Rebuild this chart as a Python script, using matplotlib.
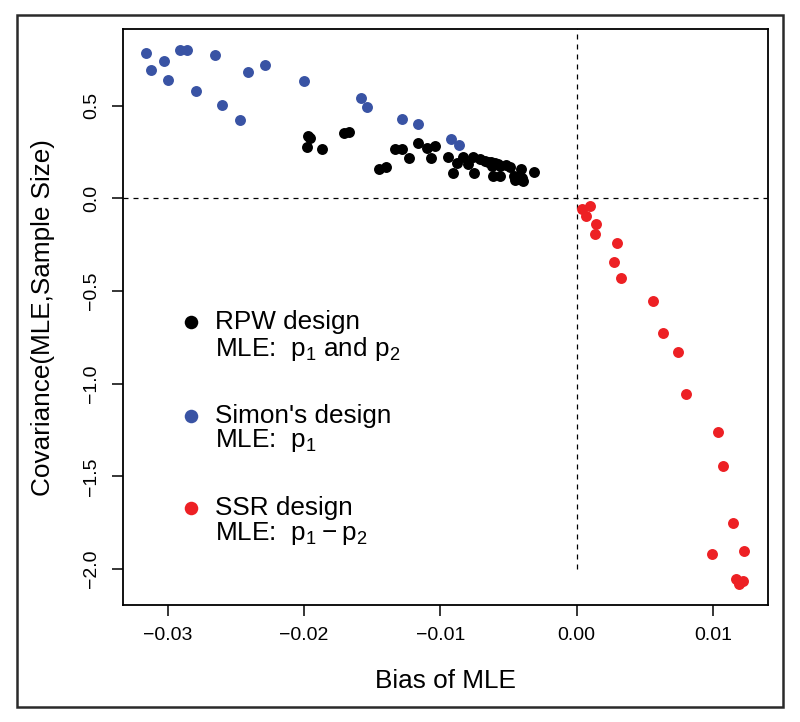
#!/usr/bin/env python3
"""Bias vs covariance(MLE, sample size) scatter for three designs."""

import matplotlib
matplotlib.use("Agg")
import matplotlib.pyplot as plt
from matplotlib.patches import Rectangle

plt.rcParams["font.family"] = ["Liberation Sans", "DejaVu Sans"]

# Simon's design (blue)
simon_bias = [-0.0316, -0.0312, -0.0303, -0.0300, -0.0291, -0.0286, -0.0279, -0.0265,
              -0.0260, -0.0247, -0.0241, -0.0229, -0.0200, -0.0158, -0.0154, -0.0128,
              -0.0116, -0.0092, -0.0086]
simon_cov = [0.783, 0.693, 0.743, 0.639, 0.802, 0.798, 0.581, 0.773,
             0.504, 0.425, 0.681, 0.718, 0.634, 0.542, 0.494, 0.427,
             0.402, 0.320, 0.288]

# RPW design (black)
rpw_bias = [-0.0197, -0.0196, -0.0198, -0.0187, -0.0171, -0.0167, -0.0145, -0.0140,
            -0.0133, -0.0128, -0.0123, -0.0116, -0.0110, -0.0104, -0.0107, -0.0094,
            -0.0091, -0.0088, -0.0083, -0.0080, -0.0076, -0.0075, -0.0071, -0.0067,
            -0.0063, -0.0062, -0.0060, -0.0061, -0.0056, -0.0056, -0.0052, -0.0049,
            -0.0046, -0.0044, -0.0041, -0.0040, -0.0039, -0.0031, -0.0045, -0.0040,
            -0.0058, -0.0065]
rpw_cov = [0.337, 0.325, 0.275, 0.268, 0.355, 0.357, 0.160, 0.170,
           0.268, 0.268, 0.218, 0.297, 0.273, 0.280, 0.220, 0.224,
           0.138, 0.192, 0.224, 0.187, 0.221, 0.138, 0.212, 0.200,
           0.194, 0.176, 0.190, 0.120, 0.120, 0.176, 0.181, 0.167,
           0.122, 0.103, 0.158, 0.110, 0.096, 0.140, 0.097, 0.098,
           0.185, 0.195]

# SSR design (red)
ssr_bias = [0.00037, 0.00067, 0.00101, 0.00142, 0.00139, 0.00296, 0.00274, 0.00330,
            0.00559, 0.00634, 0.00742, 0.00802, 0.01035, 0.01072, 0.01151, 0.00997,
            0.01230, 0.01170, 0.01189, 0.01222]
ssr_cov = [-0.060, -0.094, -0.040, -0.139, -0.194, -0.243, -0.343, -0.430,
           -0.552, -0.725, -0.827, -1.058, -1.260, -1.446, -1.752, -1.918,
           -1.901, -2.055, -2.080, -2.065]

x_ticks = [-0.03, -0.02, -0.01, 0.00, 0.01]
y_ticks = [0.5, 0.0, -0.5, -1.0, -1.5, -2.0]

BLUE = "#3953a4"
RED = "#ed2024"


def main() -> None:
    fig = plt.figure(figsize=(8.0, 7.22), dpi=100)
    ax = fig.add_axes([0.1534, 0.162, 0.8062, 0.7974])

    ax.scatter(simon_bias, simon_cov, s=62, color=BLUE, linewidths=0, zorder=3)
    ax.scatter(rpw_bias, rpw_cov, s=62, color="black", linewidths=0, zorder=3)
    ax.scatter(ssr_bias, ssr_cov, s=62, color=RED, linewidths=0, zorder=3)

    ax.set_xlim(-0.03331, 0.01403)
    ax.set_ylim(-2.194, 0.912)

    # reference lines
    ax.axhline(0, color="black", lw=0.9, ls=(0, (4, 4)), zorder=1)
    ax.plot([0, 0], [-2.0, 1.0], color="black", lw=0.9, ls=(0, (4, 4)), zorder=1)

    ax.set_xticks(x_ticks)
    ax.set_xticklabels([f"{v:.2f}".replace("-", "\u2212") for v in x_ticks])
    ax.set_yticks(y_ticks)
    ax.set_yticklabels([f"{v:.1f}".replace("-", "\u2212") for v in y_ticks],
                       rotation=90, va="center")
    ax.tick_params(length=8, width=1.1, labelsize=14, pad=8)
    for sp in ax.spines.values():
        sp.set_linewidth(1.3)

    ax.set_xlabel("Bias of MLE", fontsize=18.8)
    ax.xaxis.label.set_va("center")
    ax.xaxis.set_label_coords(0.5, -0.132)
    ax.set_ylabel("Covariance(MLE,Sample Size)", fontsize=18.8)
    ax.yaxis.label.set_va("center")
    ax.yaxis.set_label_coords(-0.1236, 0.5)

    # hand-placed legend
    entries = [
        ("black", "RPW design", r"MLE:  $\mathregular{p_1}$ and $\mathregular{p_2}$", -0.667, -0.812),
        (BLUE, "Simon's design", r"MLE:  $\mathregular{p_1}$", -1.172, -1.309),
        (RED, "SSR design", r"MLE:  $\mathregular{p_1 - p_2}$", -1.671, -1.810),
    ]
    for col, l1, l2, y1, y2 in entries:
        ax.scatter([-0.02827], [y1], s=95, color=col, linewidths=0)
        ax.text(-0.02651, y1, l1, fontsize=18.8, va="center", ha="left")
        ax.text(-0.02651, y2, l2, fontsize=18.8, va="center", ha="left")

    fig.patches.append(Rectangle((0.0209, 0.0212), 0.9575, 0.958, transform=fig.transFigure,
                                 fill=False, lw=1.8, edgecolor="#2a2a2a"))

    fig.savefig("out.png", dpi=100)
    plt.close(fig)


if __name__ == "__main__":
    main()
